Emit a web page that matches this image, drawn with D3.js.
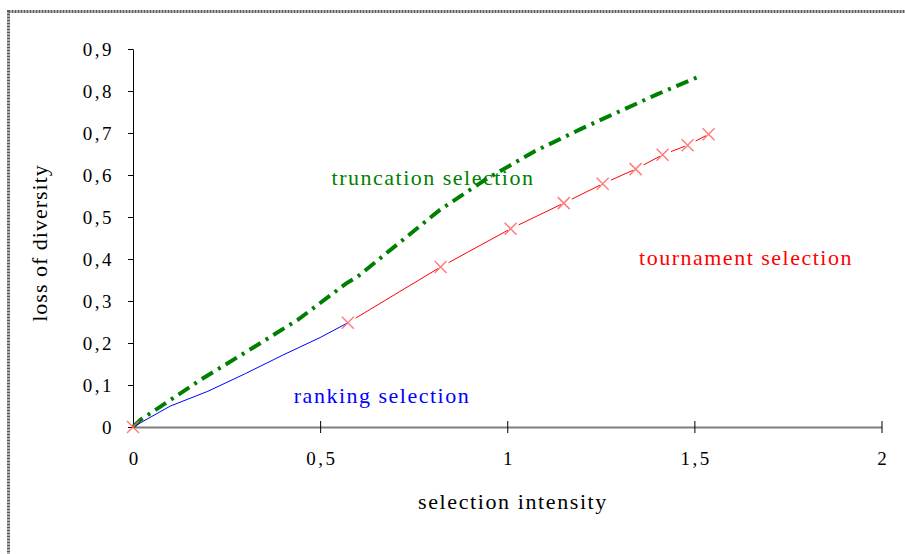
<!DOCTYPE html>
<html>
<head>
<meta charset="utf-8">
<script src="https://cdn.jsdelivr.net/npm/d3@7/dist/d3.min.js"></script>
<style>
  html, body { margin: 0; padding: 0; background: #fff; }
  svg { display: block; }
</style>
</head>
<body>
<svg id="chart" width="905" height="554"></svg>
<script>
// Loss of diversity vs. selection intensity for three selection schemes
const xTicks = [0, 0.5, 1, 1.5, 2];
const yTicks = [0, 0.1, 0.2, 0.3, 0.4, 0.5, 0.6, 0.7, 0.8, 0.9];

const truncationX = [0, 0.02, 0.18, 0.31, 0.44, 0.57, 0.60, 0.82, 0.94, 1.07, 1.20, 1.40, 1.514];
const truncationY = [0, 0.017, 0.112, 0.183, 0.255, 0.342, 0.358, 0.517, 0.588, 0.655, 0.711, 0.792, 0.835];

const rankingX = [0, 0.1, 0.2, 0.3, 0.4, 0.5, 0.574];
const rankingY = [0, 0.05, 0.085, 0.127, 0.171, 0.213, 0.248];

const tournamentX = [0, 0.574, 0.822, 1.009, 1.151, 1.255, 1.343, 1.415, 1.482, 1.538];
const tournamentY = [0, 0.248, 0.381, 0.472, 0.533, 0.579, 0.614, 0.648, 0.671, 0.697];

const FONT = "'Liberation Serif', 'Times New Roman', Times, 'DejaVu Serif', serif";
const fmt = d => String(d).replace(".", ",");

const svg = d3.select("#chart").attr("font-family", FONT);

// outer frame
svg.append("rect")
  .attr("x", 8.5).attr("y", 11.5)
  .attr("width", 1000).attr("height", 1000)
  .attr("fill", "none")
  .attr("stroke", "#5a5a5a")
  .attr("stroke-width", 3)
  .attr("stroke-dasharray", "2,1");

const x = d3.scaleLinear().domain([0, 2]).range([133, 881.5]);
const y = d3.scaleLinear().domain([0, 0.9]).range([427, 49]);

// y axis
const yAxis = svg.append("g").attr("transform", `translate(${x(0)},0)`)
  .call(d3.axisLeft(y).tickValues(yTicks).tickFormat(fmt).tickSize(5).tickSizeOuter(0).tickPadding(14));
yAxis.attr("font-family", FONT).attr("font-size", 19);
yAxis.select(".domain").attr("stroke", "#000");
yAxis.selectAll(".tick line").attr("stroke", "#000");
yAxis.selectAll("text").attr("fill", "#000").attr("letter-spacing", 2.5);

// x axis (gray line with crossing ticks)
const xAxis = svg.append("g").attr("transform", `translate(0,${y(0)})`)
  .call(d3.axisBottom(x).tickValues(xTicks).tickFormat(fmt).tickSize(0).tickPadding(25));
xAxis.attr("font-family", FONT).attr("font-size", 19);
xAxis.select(".domain").attr("stroke", "#7f7f7f").attr("stroke-width", 2);
xAxis.selectAll(".tick text").attr("fill", "#000").attr("letter-spacing", 2.5).attr("dx", 1.25);
xAxis.selectAll(".tick").filter(d => d > 0).append("line")
  .attr("y1", -6).attr("y2", 6).attr("stroke", "#000").attr("stroke-width", 1);

// axis titles
svg.append("text")
  .attr("x", 513).attr("y", 509)
  .attr("text-anchor", "middle").attr("font-size", 22).attr("letter-spacing", 1.6)
  .text("selection intensity");
svg.append("text")
  .attr("transform", `translate(47,243) rotate(-90)`)
  .attr("text-anchor", "middle").attr("font-size", 22).attr("letter-spacing", 1)
  .text("loss of diversity");

const line = d3.line().x(d => x(d[0])).y(d => y(d[1]));

// truncation selection: thick dash-dot green
const trunc = truncationX.map((v, i) => [v, truncationY[i]]);
svg.append("path")
  .attr("d", line(trunc))
  .attr("fill", "none")
  .attr("stroke", "#008000")
  .attr("stroke-width", 4)
  .attr("stroke-dasharray", "13,6,3,6");

// tournament selection: thin red segments starting just past each marker
const tour = tournamentX.map((v, i) => [v, tournamentY[i]]);
for (let i = 1; i < tour.length - 1; i++) {
  const x0 = x(tour[i][0]), y0 = y(tour[i][1]);
  const x1 = x(tour[i + 1][0]), y1 = y(tour[i + 1][1]);
  const len = Math.hypot(x1 - x0, y1 - y0);
  const gap = 9;
  svg.append("line")
    .attr("x1", x0 + (x1 - x0) * gap / len).attr("y1", y0 + (y1 - y0) * gap / len)
    .attr("x2", x1 - (x1 - x0) * 3 / len).attr("y2", y1 - (y1 - y0) * 3 / len)
    .attr("stroke", "#ff0000").attr("stroke-width", 1);
}

// ranking selection: thin blue
const rank = rankingX.map((v, i) => [v, rankingY[i]]);
svg.append("path")
  .attr("d", line(rank))
  .attr("fill", "none")
  .attr("stroke", "#0000ff")
  .attr("stroke-width", 1);

// tournament markers (x shapes)
const m = 6;
const markers = svg.append("g");
tour.forEach(d => {
  const cx = x(d[0]), cy = y(d[1]);
  markers.append("path")
    .attr("d", `M${cx - m},${cy - m}L${cx + m},${cy + m}M${cx - m},${cy + m}L${cx + m},${cy - m}`)
    .attr("stroke", "#ff6666").attr("stroke-opacity", 0.85)
    .attr("stroke-width", 1.5).attr("fill", "none");
});

// series labels
svg.append("text").attr("x", 433).attr("y", 185)
  .attr("text-anchor", "middle").attr("font-size", 22).attr("letter-spacing", 1.5).attr("fill", "#008000")
  .text("truncation selection");
svg.append("text").attr("x", 746).attr("y", 265)
  .attr("text-anchor", "middle").attr("font-size", 22).attr("letter-spacing", 1.5).attr("fill", "#ff0000")
  .text("tournament selection");
svg.append("text").attr("x", 382).attr("y", 403)
  .attr("text-anchor", "middle").attr("font-size", 22).attr("letter-spacing", 1.5).attr("fill", "#0000ff")
  .text("ranking selection");
</script>
</body>
</html>
